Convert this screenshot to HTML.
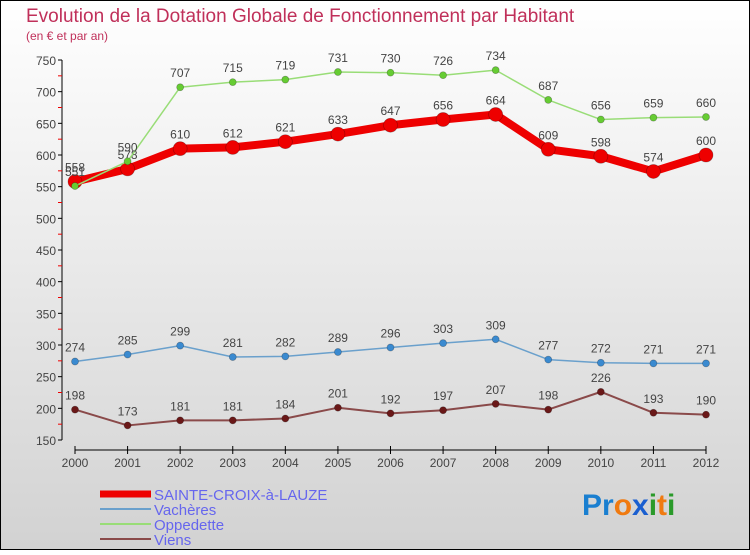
<!DOCTYPE html>
<html><head><meta charset="utf-8"><style>
body{margin:0;width:750px;height:550px;overflow:hidden;font-family:"Liberation Sans",sans-serif}
</style></head><body>
<svg id="chart" width="750" height="550" xmlns="http://www.w3.org/2000/svg">
<defs><linearGradient id="bg" x1="0" y1="0" x2="0" y2="1"><stop offset="0" stop-color="#ffffff"/><stop offset="1" stop-color="#d2d2d2"/></linearGradient></defs>
<rect x="0.5" y="0.5" width="749" height="549" fill="url(#bg)" stroke="#000"/>
<text x="26" y="22" font-size="19" fill="#c0305a">Evolution de la Dotation Globale de Fonctionnement par Habitant</text>
<text x="26" y="40" font-size="12" fill="#c0305a">(en € et par an)</text>
<g id="axes"></g><g id="series"></g><g id="legend"></g>
<text x="582" y="515" font-size="30" font-weight="bold"><tspan fill="#1a7fd0">Pr</tspan><tspan fill="#f07a10">o</tspan><tspan fill="#1a5fd0">x</tspan><tspan fill="#2a9a2a">i</tspan><tspan fill="#f07a10">t</tspan><tspan fill="#2a9a2a">i</tspan></text>
</svg>
<script>
const years=[2000,2001,2002,2003,2004,2005,2006,2007,2008,2009,2010,2011,2012];
const sainte=[558,578,610,612,621,633,647,656,664,609,598,574,600];
const vacheres=[274,285,299,281,282,289,296,303,309,277,272,271,271];
const oppedette=[551,590,707,715,719,731,730,726,734,687,656,659,660];
const viens=[198,173,181,181,184,201,192,197,207,198,226,193,190];
const yTicks=[150,200,250,300,350,400,450,500,550,600,650,700,750];
const NS="http://www.w3.org/2000/svg";
const xs=i=>75+i*(706-75)/12;
const ys=v=>440-(v-150)*(380/600);
function mk(t,a,p){const e=document.createElementNS(NS,t);for(const k in a)e.setAttribute(k,a[k]);p.appendChild(e);return e;}
const ax=document.getElementById('axes');
const ya=mk('line',{x1:62,y1:60,x2:62,y2:440,stroke:'#000'},ax);


yTicks.forEach((v,i)=>{
  mk('line',{x1:58,x2:62,y1:ys(v),y2:ys(v),stroke:'#000'},ax);
  if(i<yTicks.length-1)mk('line',{x1:58,x2:62,y1:ys(v+25),y2:ys(v+25),stroke:'#e00'},ax);
  const t=mk('text',{x:56,y:ys(v)+5,'text-anchor':'end','font-size':12,fill:'#444'},ax);t.textContent=v;
  
  
});
const xa=mk('line',{x1:75,y1:450,x2:706,y2:450,stroke:'#000'},ax);


years.forEach((y,i)=>{
  mk('line',{x1:xs(i),x2:xs(i),y1:446,y2:454,stroke:'#000'},ax);
  const t=mk('text',{x:xs(i),y:467,'text-anchor':'middle','font-size':12,fill:'#444'},ax);t.textContent=y;
  
  
});
const sg=document.getElementById('series');
function series(vals,color,dot,w,r,name){
  const g=mk('g',{},sg);
  
  
  mk('polyline',{points:vals.map((v,i)=>xs(i)+','+ys(v)).join(' '),fill:'none',stroke:color,'stroke-width':w,'stroke-linejoin':'round'},g);
  vals.forEach((v,i)=>{
    const c=mk('circle',{cx:xs(i),cy:ys(v),r:r,fill:dot,stroke:'rgba(0,0,0,0.3)','stroke-width':0.7},g);
    
    
    const t=mk('text',{x:xs(i),y:ys(v)-10,'text-anchor':'middle','font-size':12,fill:'#444'},g);t.textContent=v;
    
    
  });
}
series(viens,'#8a4a4a','#6a1818',2,3.5,'viens-series');
series(vacheres,'#6aa0cc','#3a8ad0',1.5,3.5,'vacheres-series');
series(sainte,'#ee0000','#ee0000',8,7,'sainte-croix-series');
series(oppedette,'#99dd77','#66cc33',1.5,3.5,'oppedette-series');
const lg=document.getElementById('legend');
const items=[['SAINTE-CROIX-à-LAUZE','#ee0000',7],['Vachères','#6aa0cc',2],['Oppedette','#99dd77',2],['Viens','#8a4a4a',2]];
items.forEach((it,i)=>{
  const y=494+i*15;
  const g=mk('g',{},lg);
  
  
  mk('line',{x1:100,x2:151,y1:y,y2:y,stroke:it[1],'stroke-width':it[2]},g);
  const t=mk('text',{x:154,y:y+6,'font-size':15,fill:'#6666ee'},g);t.textContent=it[0];
});
</script>
</body></html>
